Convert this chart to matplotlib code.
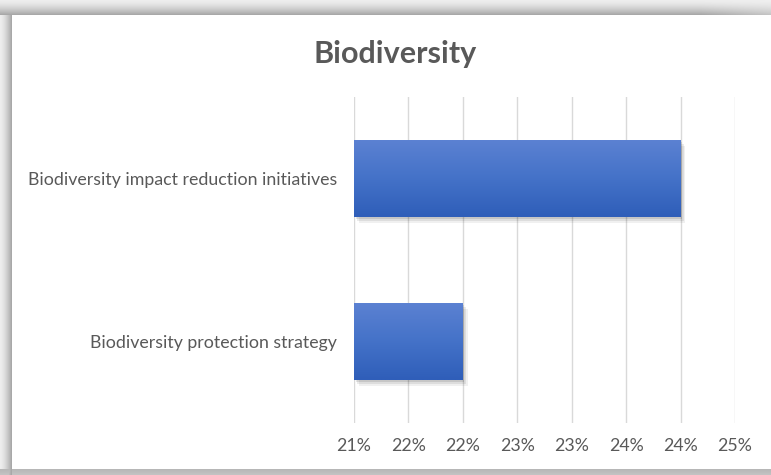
import numpy as np
import matplotlib
matplotlib.use("Agg")
import matplotlib.pyplot as plt
from matplotlib.colors import LinearSegmentedColormap
from matplotlib.patches import Rectangle

categories = ["Biodiversity protection strategy",
              "Biodiversity impact reduction initiatives"]
values = [22.0, 24.0]          # percent
axis_min, axis_max, step = 21.0, 24.5, 0.5
tick_labels = ["21%", "22%", "22%", "23%", "23%", "24%", "24%", "25%"]
title = "Biodiversity"

FONT = "Lato"
W, H = 771, 475
fig = plt.figure(figsize=(W / 100, H / 100), dpi=100)
fig.patch.set_facecolor("white")

# --- chart frame: soft grey border around a white chart area ---
bg = fig.add_axes([0, 0, 1, 1])
bg.set_axis_off()
img = np.ones((H, W, 3))
top, left, bottom = 15, 12, 469
for y in range(top):
    v = 0.93 - 0.27 * (y / (top - 1)) ** 1.5
    img[y, :, :] = v
for x in range(left):
    v = 0.93 - 0.27 * (x / (left - 1)) ** 1.5
    img[top:, x, :] = np.minimum(img[top:, x, :], v)
for y in range(bottom, H):
    v = 0.72 + 0.05 * (y - bottom) / (H - bottom)
    img[y, :, :] = np.minimum(img[y, :, :], v)
fade = np.clip((np.arange(W) - 700) / 71, 0, 1)[None, :, None]
img[:top] = img[:top] * (1 - 0.4 * fade) + 0.4 * fade * 0.95
bg.imshow(img, extent=[0, W, H, 0], aspect="auto", interpolation="bilinear")
bg.set_xlim(0, W)
bg.set_ylim(H, 0)

# --- plotting area ---
ax = fig.add_axes([354 / W, 1 - 423 / H, (735 - 354) / W, (423 - 97) / H])
ax.set_facecolor("none")
ypos = np.arange(len(categories))
bars = ax.barh(ypos, np.array(values) - axis_min, left=axis_min, height=0.47,
               color="#4472C4", zorder=3)

ax.set_xlim(axis_min, axis_max)
ax.set_ylim(-0.5, len(categories) - 0.5)
ticks = np.arange(axis_min, axis_max + step / 2, step)
ax.set_xticks(ticks)
ax.set_xticklabels(tick_labels)
ax.set_yticks(ypos)
ax.set_yticklabels(categories)
ax.grid(axis="x", color="#d9d9d9", linewidth=1.0, zorder=0)
ax.tick_params(axis="both", length=0, labelcolor="#595959", labelsize=12.8)
ax.tick_params(axis="x", pad=11)
ax.tick_params(axis="y", pad=12)
for s in ax.spines.values():
    s.set_visible(False)
for lab in ax.get_xticklabels() + ax.get_yticklabels():
    lab.set_fontfamily(FONT)

# gradient fill and soft drop shadow for each bar
cmap = LinearSegmentedColormap.from_list(
    "barfill", ["#5B81D2", "#4472C8", "#2F5EB9"])
grad = np.linspace(0, 1, 64)[:, None]
for b in bars:
    x0, y0 = b.get_x(), b.get_y()
    w, h = b.get_width(), b.get_height()
    for i, a in enumerate([0.10, 0.08, 0.06]):
        ax.add_patch(Rectangle((x0 + 0.015 * (i + 1), y0 - 0.012 * (i + 1)),
                               w, h, facecolor="black", alpha=a,
                               edgecolor="none", zorder=2))
    im = ax.imshow(grad, cmap=cmap, extent=[x0, x0 + w, y0, y0 + h],
                   aspect="auto", zorder=3.5, interpolation="bilinear")
    im.set_clip_path(b)

ax.set_xlim(axis_min, axis_max)
ax.set_ylim(-0.5, len(categories) - 0.5)

fig.text(395 / W, 1 - 54 / H, title, ha="center", va="center",
         fontsize=22, fontweight="bold", color="#595959", family=FONT)

fig.savefig("out.png", dpi=100)
